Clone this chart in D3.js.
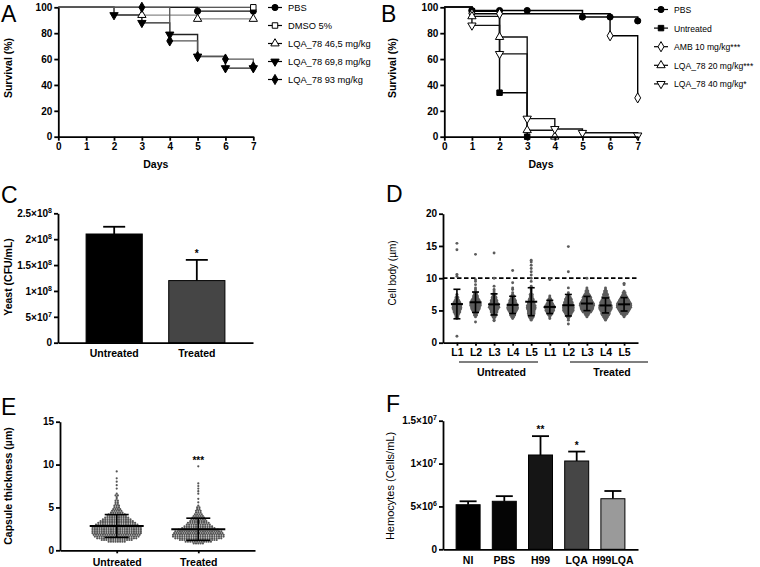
<!doctype html>
<html lang="en">
<head>
<meta charset="utf-8">
<title>LQA_78 in vivo figure</title>
<script src="https://cdn.jsdelivr.net/npm/d3@7"></script>
<style>
body{margin:0;background:#fff;}
svg{display:block;font-family:"Liberation Sans",Arial,Helvetica,sans-serif;}
.axis path,.axis line{stroke:#000;stroke-width:1.8;}
.axis text{font-weight:bold;font-size:10px;fill:#000;font-family:"Liberation Sans",Arial,sans-serif;}
.letter{font-size:23px;fill:#000;}
.ylab{font-size:10.5px;font-weight:bold;}
.legend text{font-size:9.3px;}
</style>
</head>
<body>
<svg id="fig" width="760" height="567"></svg>
<script>
// ---------- data ----------
const kmDays = [0,1,2,3,4,5,6,7];
const survTicks = [0,20,40,60,80,100];

// A: survival of larvae treated with LQA_78 alone
const aNames = ["PBS","DMSO 5%","LQA_78 46,5 mg/kg","LQA_78 69,8 mg/kg","LQA_78 93 mg/kg"];
const aDays = [[0,5,7],[0,7],[0,3,5,7],[0,2,3,4,5,6,7],[0,3,4,5,6,7]];
const aSurv = [[100,97,97],[100,100],[100,94,91,91],[100,94,88,79,62,53,53],[100,100,74,62,60,54]];

// B: survival of infected larvae
const bNames = ["PBS","Untreated","AMB 10 mg/kg***","LQA_78 20 mg/kg***","LQA_78 40 mg/kg*"];
const bDays = [[0,1,2,3,5,6,7],[0,1,2,3],[0,1,2,6,7],[0,1,2,3,4],[0,1,2,3,4,5,7]];
const bSurv = [[100,97.5,97.5,97.5,92.5,92.5,89.5],[100,97,34,0],[100,95,95,78,30],[100,93,77,5,0],[100,86,64,14,6,3,1]];

// C: fungal burden
const cGroups = ["Untreated","Treated"];
const cMeans = [2.1e8,1.2e8];
const cErr = [2.24e8,1.6e8];
const cStars = ["","*"];
const cTickVals = [0,5e7,1e8,1.5e8,2e8,2.5e8];
const cTickMant = ["0","5","1","1.5","2","2.5"];
const cTickExp = ["","7","8","8","8","8"];

// D: cell body size, counts per 0.25 µm bin plus isolated points
const dLabels = ["L1","L2","L3","L4","L5","L1","L2","L3","L4","L5"];
const bodyGrid = [3,3.25,3.5,3.75,4,4.25,4.5,4.75,5,5.25,5.5,5.75,6,6.25,6.5,6.75,7,7.25,7.5,7.75,8,8.25,8.5,8.75,9];
const bodyCounts = [
  [0,0,0,1,2,2,3,4,4,5,5,5,4,4,3,2,2,1,1,0,0,0,0,0,0],
  [0,0,0,0,1,2,2,3,4,5,5,6,6,5,5,4,3,3,2,2,1,1,1,0,1],
  [0,0,1,1,2,3,3,4,4,5,6,5,5,4,4,3,3,2,2,1,1,1,0,1,0],
  [0,0,0,1,2,3,3,4,5,6,6,5,5,4,4,3,2,2,1,1,0,1,1,0,0],
  [0,0,1,2,3,3,4,4,4,5,5,5,4,4,3,3,2,2,2,1,1,1,1,1,0],
  [0,0,0,1,1,2,3,4,5,5,6,5,4,3,2,2,1,1,0,0,0,0,0,0,0],
  [0,0,1,1,2,3,4,5,6,6,6,6,5,5,4,4,3,2,1,1,0,0,1,0,0],
  [0,0,0,0,1,2,3,5,6,7,7,8,8,7,6,5,5,4,3,2,2,1,1,0,0],
  [0,0,1,2,3,4,5,5,6,7,7,7,6,6,5,4,4,3,3,2,2,1,1,0,0],
  [0,0,0,0,1,2,4,5,6,7,8,8,8,7,6,5,4,3,2,2,1,0,0,0,1]
];
const bodyExtra = [
  [1.0,10.3,10.6,14.4,15.4],
  [3.2,9.5,9.75,13.7],
  [3.4,10.0,13.9],
  [9.3,11.2],
  [9.5,10.0,10.5,11.0,11.5,12.0,12.5,12.8],
  [9.8],
  [2.9,11.0,14.9],
  [10.0],
  [],
  [9.2]
];
const bodyThreshold = 10;

// E: capsule thickness, counts per value
const eGroups = ["Untreated","Treated"];
const capUntVals = [1.0,1.2,1.4,1.6,1.8,2.0,2.2,2.4,2.6,2.8,3.0,3.2,3.4,3.6,3.8,4.0,4.2,4.4,4.6,4.8,5.0,5.2,5.4,5.6,5.8,6.0,6.2,6.4,6.6,7.2,7.6,8.0,8.4,9.2];
const capUntCounts = [8,14,18,20,21,22,22,22,22,21,19,17,15,13,11,9,8,6,5,4,3,3,2,2,2,1,1,2,1,1,1,1,1,1];
const capTrtVals = [0.8,1.0,1.2,1.4,1.6,1.8,2.0,2.2,2.4,2.6,2.8,3.0,3.2,3.4,3.6,3.8,4.0,4.2,4.4,4.6,4.8,5.0,5.2,5.6,6.0,6.6,6.9,7.2,7.5,7.8,9.8];
const capTrtCounts = [5,12,17,21,23,23,22,21,18,15,13,11,10,8,7,6,5,4,3,3,2,2,1,1,1,1,1,1,1,1,1];
const eStars = ["","***"];

// F: hemocyte counts
const fGroups = ["NI","PBS","H99","LQA","H99LQA"];
const fMeans = [5.2e6,5.6e6,11.0e6,10.3e6,5.9e6];
const fErr = [5.6e6,6.2e6,13.2e6,11.4e6,6.8e6];
const fStars = ["","","**","*",""];
const fTickVals = [0,5e6,1e7,1.5e7];
const fTickMant = ["0","5","1","1.5"];
const fTickExp = ["","6","7","7"];

// ---------- drawing ----------
const svg = d3.select("#fig");

function letter(x, y, t){
  svg.append("text").attr("class","letter").attr("x",x).attr("y",y).text(t);
}
function yLabel(cx, cy, t, bold, size){
  svg.append("text").attr("class","ylab")
    .attr("transform",`translate(${cx},${cy}) rotate(-90)`)
    .attr("text-anchor","middle").attr("dy","0.35em")
    .style("font-weight", bold ? "bold" : "normal")
    .style("font-size", (size||10.5)+"px")
    .text(t);
}
// replace tick labels by mantissa x 10^exp
function sciTicks(axisG, mant, exp){
  axisG.selectAll(".tick text").each(function(d,i){
    const t = d3.select(this).text("");
    if(!exp[i]){ t.text(mant[i]); return; }
    t.append("tspan").text(mant[i] + "\u00d710");
    t.append("tspan").attr("dy","-4").style("font-size","7px").text(exp[i]);
  });
}
function symType(s){
  return {circle:d3.symbolCircle,square:d3.symbolSquare,triUp:d3.symbolTriangle,triDown:d3.symbolTriangle,diamond:d3.symbolDiamond}[s];
}
function marker(g, shape, filled, cx, cy, size){
  g.append("path")
    .attr("d", d3.symbol(symType(shape), size)())
    .attr("transform", `translate(${cx},${cy})` + (shape==="triDown" ? " rotate(180)" : ""))
    .attr("fill", filled ? "#000" : "#fff")
    .attr("stroke","#000").attr("stroke-width",1);
}

function survivalPanel(o){
  const g = svg.append("g");
  const x = d3.scaleLinear().domain([0,7]).range([o.left,o.right]);
  const y = d3.scaleLinear().domain([0,100]).range([136.7,7.3]);
  const line = d3.line().x(d=>x(d[0])).y(d=>y(d[1])).curve(d3.curveStepAfter);
  o.days.forEach((ds,i)=>{
    const pts = ds.map((d,j)=>[d,o.surv[i][j]]);
    g.append("path").datum(pts).attr("d",line)
      .attr("fill","none").attr("stroke",o.colours[i]).attr("stroke-width",o.widths[i]);
  });
  o.days.forEach((ds,i)=>{
    ds.forEach((d,j)=>{ if(j>0) marker(g,o.shapes[i],o.filled[i],x(d),y(o.surv[i][j]),30); });
  });
  g.append("g").attr("class","axis").attr("transform","translate(0,136.7)")
    .call(d3.axisBottom(x).tickValues(kmDays).tickFormat(d3.format("d")).tickSize(4).tickSizeOuter(0).tickPadding(2));
  g.append("g").attr("class","axis").attr("transform",`translate(${o.left},0)`)
    .call(d3.axisLeft(y).tickValues(survTicks).tickSize(4).tickSizeOuter(0).tickPadding(2));
  g.append("text").attr("x",(o.left+o.right)/2).attr("y",168)
    .attr("text-anchor","middle").style("font-weight","bold").style("font-size","10.5px").text("Days");
  // legend
  const lg = svg.append("g").attr("class","legend");
  o.names.forEach((n,i)=>{
    const ly = o.legY + i*o.legStep;
    lg.append("line").attr("x1",o.legX).attr("x2",o.legX+14).attr("y1",ly).attr("y2",ly)
      .attr("stroke","#000").attr("stroke-width",1.2);
    marker(lg,o.shapes[i],o.filled[i],o.legX+7,ly,30);
    lg.append("text").attr("x",o.legX+20).attr("y",ly+3.5).style("font-size",o.legFont+"px").text(n);
  });
}

// A
letter(1,22,"A");
yLabel(8,68,"Survival  (%)",true,10.5);
survivalPanel({
  left:58.3, right:253.3, names:aNames, days:aDays, surv:aSurv,
  shapes:["circle","square","triUp","triDown","diamond"],
  filled:[true,false,false,true,true],
  colours:["#111","#222","#8a8a8a","#222","#555"],
  widths:[1.3,1.1,1.2,1.4,1.3],
  legX:268, legY:7.5, legStep:18, legFont:9.3
});

// B
letter(381,22,"B");
yLabel(392,68,"Survival  (%)",true,10.5);
survivalPanel({
  left:444.3, right:637.7, names:bNames, days:bDays, surv:bSurv,
  shapes:["circle","square","diamond","triUp","triDown"],
  filled:[true,true,false,false,false],
  colours:["#000","#000","#000","#111","#111"],
  widths:[1.6,1.5,1.4,1.4,1.4],
  legX:654, legY:9.5, legStep:18.6, legFont:8.6
});

// bar panel helper (C and F)
function barPanel(o){
  const g = svg.append("g");
  const x = d3.scaleBand().domain(o.groups).range([o.left,o.right])
    .paddingInner(o.pin).paddingOuter(o.pout);
  const y = d3.scaleLinear().domain([0,o.max]).range([o.bottom,o.top]);
  o.groups.forEach((k,i)=>{
    const cx = x(k)+x.bandwidth()/2;
    g.append("line").attr("x1",cx).attr("x2",cx).attr("y1",y(o.means[i])).attr("y2",y(o.err[i]))
      .attr("stroke","#000").attr("stroke-width",1.8);
    g.append("line").attr("x1",cx-o.cap/2).attr("x2",cx+o.cap/2).attr("y1",y(o.err[i])).attr("y2",y(o.err[i]))
      .attr("stroke","#000").attr("stroke-width",1.8);
    g.append("rect").attr("x",x(k)).attr("width",x.bandwidth())
      .attr("y",y(o.means[i])).attr("height",o.bottom-y(o.means[i]))
      .attr("fill",o.fills[i]).attr("stroke","#000").attr("stroke-width",1);
    if(o.stars[i]) g.append("text").attr("x",cx).attr("y",y(o.err[i])-3)
      .attr("text-anchor","middle").style("font-weight","bold").style("font-size","10px").text(o.stars[i]);
  });
  const ax = g.append("g").attr("class","axis").attr("transform",`translate(${o.left},0)`)
    .call(d3.axisLeft(y).tickValues(o.tickVals).tickSize(4).tickSizeOuter(0).tickPadding(2));
  sciTicks(ax,o.mant,o.exp);
  const bx = g.append("g").attr("class","axis").attr("transform",`translate(0,${o.bottom})`)
    .call(d3.axisBottom(x).tickSize(0).tickSizeOuter(0).tickPadding(7));
  bx.selectAll("text").style("font-size","10.5px");
}

// C
letter(1,203,"C");
yLabel(8,277,"Yeast (CFU/mL)",true,10.5);
barPanel({
  groups:cGroups, means:cMeans, err:cErr, stars:cStars,
  left:58, right:253, top:213.3, bottom:342.7, max:2.5e8,
  pin:0.32, pout:0.34, cap:22, fills:["#000","#454545"],
  tickVals:cTickVals, mant:cTickMant, exp:cTickExp
});

// F
letter(386,412,"F");
yLabel(390,486,"Hemocytes (Cells/mL)",false,11);
barPanel({
  groups:fGroups, means:fMeans, err:fErr, stars:fStars,
  left:443, right:638, top:420.7, bottom:549.3, max:1.5e7,
  pin:0.337, pout:0.362, cap:17, fills:["#000","#050505","#151515","#464646","#9a9a9a"],
  tickVals:fTickVals, mant:fTickMant, exp:fTickExp
});

// swarm helper: same-value points spread sideways
function swarm(vals, counts, extra, spacing){
  const pts = [];
  vals.forEach((v,i)=>{
    const n = counts[i];
    for(let k=0;k<n;k++) pts.push({v:v, dx:(k-(n-1)/2)*spacing});
  });
  extra.forEach(v=>pts.push({v:v, dx:0}));
  return pts;
}
function meanSd(g, cx, y, pts, meanW, capW){
  const vs = pts.map(p=>p.v);
  const m = d3.mean(vs), s = d3.deviation(vs);
  g.append("line").attr("x1",cx).attr("x2",cx).attr("y1",y(m-s)).attr("y2",y(m+s)).attr("stroke","#000").attr("stroke-width",1.6);
  [m-s,m+s].forEach(v=>g.append("line").attr("x1",cx-capW/2).attr("x2",cx+capW/2).attr("y1",y(v)).attr("y2",y(v)).attr("stroke","#000").attr("stroke-width",1.6));
  g.append("line").attr("x1",cx-meanW/2).attr("x2",cx+meanW/2).attr("y1",y(m)).attr("y2",y(m)).attr("stroke","#000").attr("stroke-width",2);
}

// D
letter(386,202,"D");
yLabel(392,273,"Cell body (\u00b5m)",false,10);
(function(){
  const g = svg.append("g");
  const ids = dLabels.map((d,i)=>i);
  const x = d3.scalePoint().domain(ids).range([443,638]).padding(0.75);
  const y = d3.scaleLinear().domain([0,20]).range([342.7,213.7]);
  g.append("line").attr("x1",443).attr("x2",638).attr("y1",y(bodyThreshold)).attr("y2",y(bodyThreshold))
    .attr("stroke","#000").attr("stroke-width",1.8).attr("stroke-dasharray","4.5,2.5");
  ids.forEach(i=>{
    const pts = swarm(bodyGrid, bodyCounts[i], bodyExtra[i], 1.9);
    g.selectAll(null).data(pts).join("circle")
      .attr("cx",p=>x(i)+p.dx).attr("cy",p=>y(p.v)).attr("r",1.45).attr("fill","#5c5c5c");
    meanSd(g, x(i), y, pts, 12, 7);
  });
  const ax = g.append("g").attr("class","axis").attr("transform","translate(0,342.7)")
    .call(d3.axisBottom(x).tickSize(3).tickSizeOuter(0).tickPadding(3).tickFormat(i=>dLabels[i]));
  ax.selectAll("text").style("font-size","10.5px");
  g.append("g").attr("class","axis").attr("transform","translate(443,0)")
    .call(d3.axisLeft(y).tickValues([0,5,10,15,20]).tickSize(4).tickSizeOuter(0).tickPadding(2));
  [["Untreated",459,538],["Treated",570,648]].forEach(([t,a,b])=>{
    g.append("line").attr("x1",a).attr("x2",b).attr("y1",362).attr("y2",362).attr("stroke","#000").attr("stroke-width",1.1);
    g.append("text").attr("x",(a+b)/2+3).attr("y",376).attr("text-anchor","middle")
      .style("font-weight","bold").style("font-size","10.5px").text(t);
  });
})();

// E
letter(1,415,"E");
yLabel(8,486,"Capsule thickness (\u00b5m)",true,10.5);
(function(){
  const g = svg.append("g");
  const x = d3.scalePoint().domain(eGroups).range([60,255]).padding(0.695);
  const y = d3.scaleLinear().domain([0,15]).range([550.3,421.7]);
  const sets = [swarm(capUntVals,capUntCounts,[],2.3), swarm(capTrtVals,capTrtCounts,[],2.3)];
  eGroups.forEach((k,i)=>{
    g.selectAll(null).data(sets[i]).join("circle")
      .attr("cx",p=>x(k)+p.dx).attr("cy",p=>y(p.v)).attr("r",1.1).attr("fill","#555");
  });
  eGroups.forEach((k,i)=>{
    meanSd(g, x(k), y, sets[i], 54, 24);
    if(eStars[i]) g.append("text").attr("x",x(k)).attr("y",464).attr("text-anchor","middle")
      .style("font-weight","bold").style("font-size","10px").text(eStars[i]);
  });
  const ax = g.append("g").attr("class","axis").attr("transform","translate(0,550.3)")
    .call(d3.axisBottom(x).tickSize(3).tickSizeOuter(0).tickPadding(5));
  ax.selectAll("text").style("font-size","10.5px");
  g.append("g").attr("class","axis").attr("transform","translate(60,0)")
    .call(d3.axisLeft(y).tickValues([0,5,10,15]).tickSize(4).tickSizeOuter(0).tickPadding(2));
})();
</script>
</body>
</html>
